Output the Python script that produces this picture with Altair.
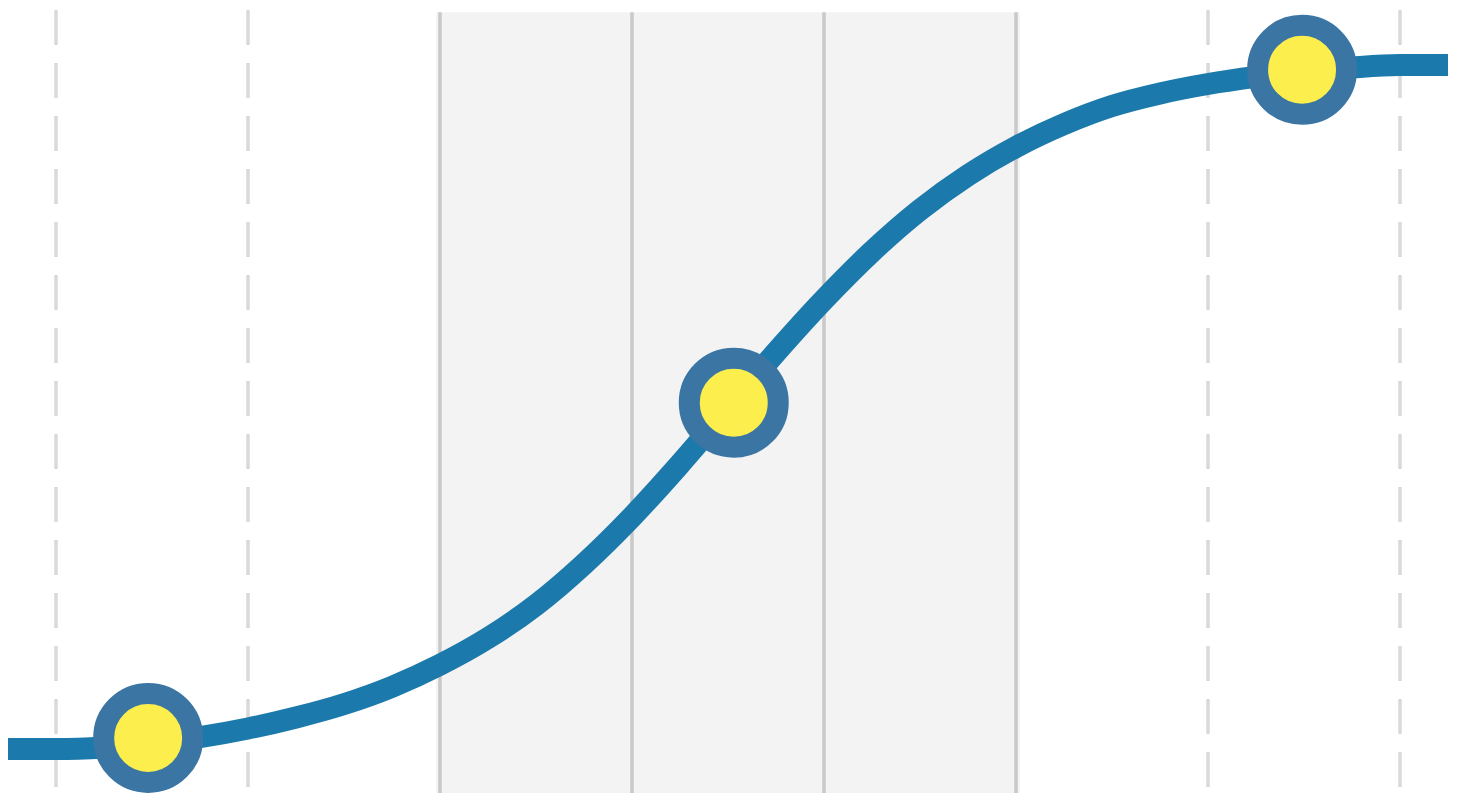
import altair as alt
import pandas as pd

# curve samples (x in grid units, y in 0-100 units)
line_x = [-0.25, 0.0, 0.25, 0.5, 0.75, 1.0, 1.25, 1.5, 1.75, 2.0, 2.25, 2.5,
          2.75, 3.0, 3.25, 3.5, 3.75, 4.0, 4.25, 4.5, 4.75, 5.0, 5.25, 5.5,
          5.75, 6.0, 6.25, 6.5, 6.75, 7.0, 7.25]
line_y = [6.1, 6.1, 6.3, 6.8, 7.6, 8.7, 10.1, 11.8, 14.0, 16.8, 20.2, 24.4,
          29.6, 35.6, 42.3, 49.4, 56.5, 63.2, 69.3, 74.6, 79.0, 82.6, 85.5, 87.8,
          89.4, 90.6, 91.5, 92.2, 92.7, 93.0, 93.0]

point_x = [0.48, 3.53, 6.49]
point_y = [7.5, 50.1, 92.4]

dashed_grid = [0, 1, 6, 7]
solid_grid = [2, 3, 4, 5]

band_start = [1.98]
band_end = [5.02]

X_DOMAIN = [-0.25, 7.25]
Y_DOMAIN = [0, 100]

xs = alt.Scale(domain=X_DOMAIN, nice=False, zero=False)
ys = alt.Scale(domain=Y_DOMAIN, nice=False, zero=False)

line_df = pd.DataFrame({"x": line_x, "y": line_y})
pts_df = pd.DataFrame({"x": point_x, "y": point_y})
dash_df = pd.DataFrame({"x": dashed_grid, "top": [100] * len(dashed_grid), "bot": [0] * len(dashed_grid)})
solid_df = pd.DataFrame({"x": solid_grid, "top": [99.7] * len(solid_grid), "bot": [0.5] * len(solid_grid)})
band_df = pd.DataFrame({"x": band_start, "x2": band_end, "top": [99.7], "bot": [0.5]})

band = alt.Chart(band_df).mark_rect(color="#f3f3f3").encode(
    x=alt.X("x:Q", scale=xs, axis=None),
    x2="x2:Q",
    y=alt.Y("top:Q", scale=ys, axis=None),
    y2="bot:Q",
)

dashed = alt.Chart(dash_df).mark_rule(color="#d9d9d9", strokeWidth=3.5, strokeDash=[35, 18]).encode(
    x=alt.X("x:Q", scale=xs, axis=None),
    y=alt.Y("top:Q", scale=ys, axis=None),
    y2="bot:Q",
)

solid = alt.Chart(solid_df).mark_rule(color="#c9c9c9", strokeWidth=3.5).encode(
    x=alt.X("x:Q", scale=xs, axis=None),
    y=alt.Y("top:Q", scale=ys, axis=None),
    y2="bot:Q",
)

curve = alt.Chart(line_df).mark_line(
    color="#1b7aab", strokeWidth=22, interpolate="monotone", strokeCap="butt"
).encode(
    x=alt.X("x:Q", scale=xs, axis=None),
    y=alt.Y("y:Q", scale=ys, axis=None),
)

points = alt.Chart(pts_df).mark_point(
    shape="circle", filled=True, fill="#fbee4d", stroke="#3b75a3",
    strokeWidth=21, size=7921, opacity=1
).encode(
    x=alt.X("x:Q", scale=xs, axis=None),
    y=alt.Y("y:Q", scale=ys, axis=None),
)

chart = alt.layer(band, dashed, solid, curve, points).properties(
    width=1440,
    height=787,
    autosize=alt.AutoSizeParams(type="none"),
    padding={"left": 0, "top": 2, "right": 0, "bottom": 0},
    background="white",
).configure_view(stroke=None)

chart.save("out.html", embed_options={"renderer": "svg", "actions": False})
